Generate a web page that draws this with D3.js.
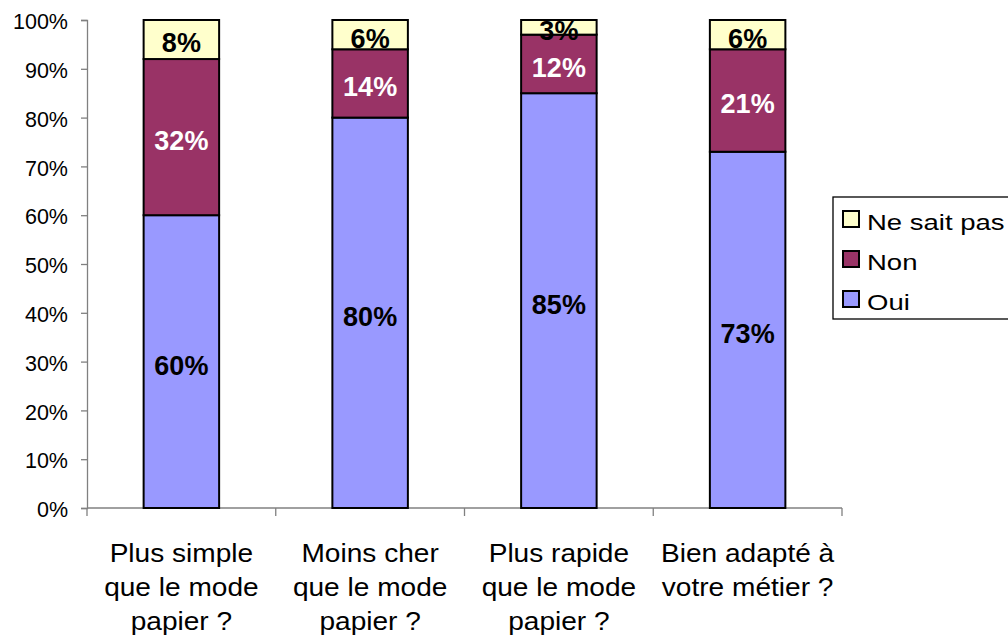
<!DOCTYPE html>
<html>
<head>
<meta charset="utf-8">
<script src="https://cdn.jsdelivr.net/npm/d3@7"></script>
<style>
  body { margin: 0; background: #fff; }
  svg { font-family: "Liberation Sans", Arial, sans-serif; }
</style>
</head>
<body>
<script>
// data
var categories = [
  ["Plus simple", "que le mode", "papier ?"],
  ["Moins cher", "que le mode", "papier ?"],
  ["Plus rapide", "que le mode", "papier ?"],
  ["Bien adapté à", "votre métier ?"]
];
var oui = [60, 80, 85, 73];
var non = [32, 14, 12, 21];
var nsp = [8, 6, 3, 6];
var seriesNames = ["Oui", "Non", "Ne sait pas"];
var yTicks = [0, 10, 20, 30, 40, 50, 60, 70, 80, 90, 100];

var w = 1008, h = 636;
var margin = {top: 20, left: 87, right: 166, bottom: 128};
var width = w - margin.left - margin.right,
    height = h - margin.top - margin.bottom;

var colors = {"Oui": "#9999ff", "Non": "#993366", "Ne sait pas": "#ffffcc"};
var labelColors = {"Oui": "#000", "Non": "#fff", "Ne sait pas": "#000"};
var axisColor = "#808080";

var svg = d3.select("body").append("svg")
    .attr("width", w)
    .attr("height", h)
  .append("g")
    .attr("transform", "translate(" + margin.left + "," + margin.top + ")");

var xScale = d3.scaleBand()
    .domain(d3.range(categories.length))
    .range([0, width])
    .padding(0);
var yScale = d3.scaleLinear()
    .domain([0, 100])
    .range([height, 0]);

var barW = xScale.bandwidth() * 0.4;

// stack
var rows = oui.map(function(d, i) {
  return {idx: i, "Oui": oui[i], "Non": non[i], "Ne sait pas": nsp[i]};
});
var stack = d3.stack().keys(seriesNames)(rows);

// y axis
var yAxis = svg.append("g")
    .attr("class", "axis-y")
    .call(d3.axisLeft(yScale).tickValues(yTicks).tickSize(6).tickPadding(13)
      .tickFormat(function(d) { return d + "%"; }));
yAxis.select(".domain").attr("stroke", axisColor).attr("stroke-width", 1.3);
yAxis.selectAll(".tick line").attr("stroke", axisColor).attr("stroke-width", 1.3);
yAxis.selectAll(".tick text")
    .attr("font-size", "21.5px")
    .attr("dy", "0.4em")
    .attr("fill", "#000")
    .style("font-family", "'Liberation Sans', Arial, sans-serif");

// x axis
var xAxis = svg.append("g")
    .attr("transform", "translate(0," + height + ")");
xAxis.append("line")
    .attr("x1", 0).attr("x2", width)
    .attr("stroke", axisColor).attr("stroke-width", 1.3);
xAxis.selectAll(".xtick")
    .data(d3.range(categories.length + 1))
  .enter().append("line")
    .attr("x1", function(d) { return d < categories.length ? xScale(d) : width; })
    .attr("x2", function(d) { return d < categories.length ? xScale(d) : width; })
    .attr("y1", 0).attr("y2", 8)
    .attr("stroke", axisColor).attr("stroke-width", 1.3);

xAxis.selectAll(".xlabel")
    .data(categories)
  .enter().append("text")
    .attr("text-anchor", "middle")
    .attr("font-size", "26px")
    .attr("fill", "#000")
    .attr("transform", function(d, i) {
      return "translate(" + (xScale(i) + xScale.bandwidth() / 2) + ",54) scale(1.08,1)";
    })
  .selectAll("tspan")
    .data(function(d) { return d; })
  .enter().append("tspan")
    .attr("x", 0)
    .attr("y", function(d, j) { return j * 34; })
    .text(function(d) { return d; });

// bars
var layer = svg.selectAll(".layer")
    .data(stack)
  .enter().append("g")
    .attr("class", "layer")
    .attr("fill", function(d) { return colors[d.key]; });

layer.selectAll("rect")
    .data(function(d) { return d; })
  .enter().append("rect")
    .attr("x", function(d) { return xScale(d.data.idx) + (xScale.bandwidth() - barW) / 2; })
    .attr("y", function(d) { return yScale(d[1]); })
    .attr("width", barW)
    .attr("height", function(d) { return yScale(d[0]) - yScale(d[1]); })
    .attr("stroke", "#000")
    .attr("stroke-width", 2);

// labels
stack.forEach(function(s) {
  svg.selectAll(".lbl-" + s.index)
      .data(s)
    .enter().append("text")
      .attr("x", function(d) { return xScale(d.data.idx) + xScale.bandwidth() / 2; })
      .attr("y", function(d) { return yScale((d[0] + d[1]) / 2); })
      .attr("dy", "0.48em")
      .attr("text-anchor", "middle")
      .attr("font-size", "27px")
      .attr("font-weight", "bold")
      .attr("fill", labelColors[s.key])
      .text(function(d) { return (d[1] - d[0]) + "%"; });
});

// legend
var legend = svg.append("g")
    .attr("transform", "translate(" + (width - 9) + ",177)");
legend.append("rect")
    .attr("x", 0).attr("y", 0)
    .attr("width", 200).attr("height", 122)
    .attr("fill", "#fff")
    .attr("stroke", "#000")
    .attr("stroke-width", 1.3);

var legendItems = seriesNames.slice().reverse();
var li = legend.selectAll(".legend")
    .data(legendItems)
  .enter().append("g")
    .attr("transform", function(d, i) { return "translate(10," + (25 + i * 40) + ")"; });
li.append("rect")
    .attr("x", 0).attr("y", -11)
    .attr("width", 16).attr("height", 16)
    .attr("fill", function(d) { return colors[d]; })
    .attr("stroke", "#000")
    .attr("stroke-width", 2);
li.append("text")
    .attr("transform", "translate(24,0) scale(1.25,1)")
    .attr("dy", "0.36em")
    .attr("font-size", "22px")
    .attr("fill", "#000")
    .text(function(d) { return d; });
</script>
</body>
</html>
